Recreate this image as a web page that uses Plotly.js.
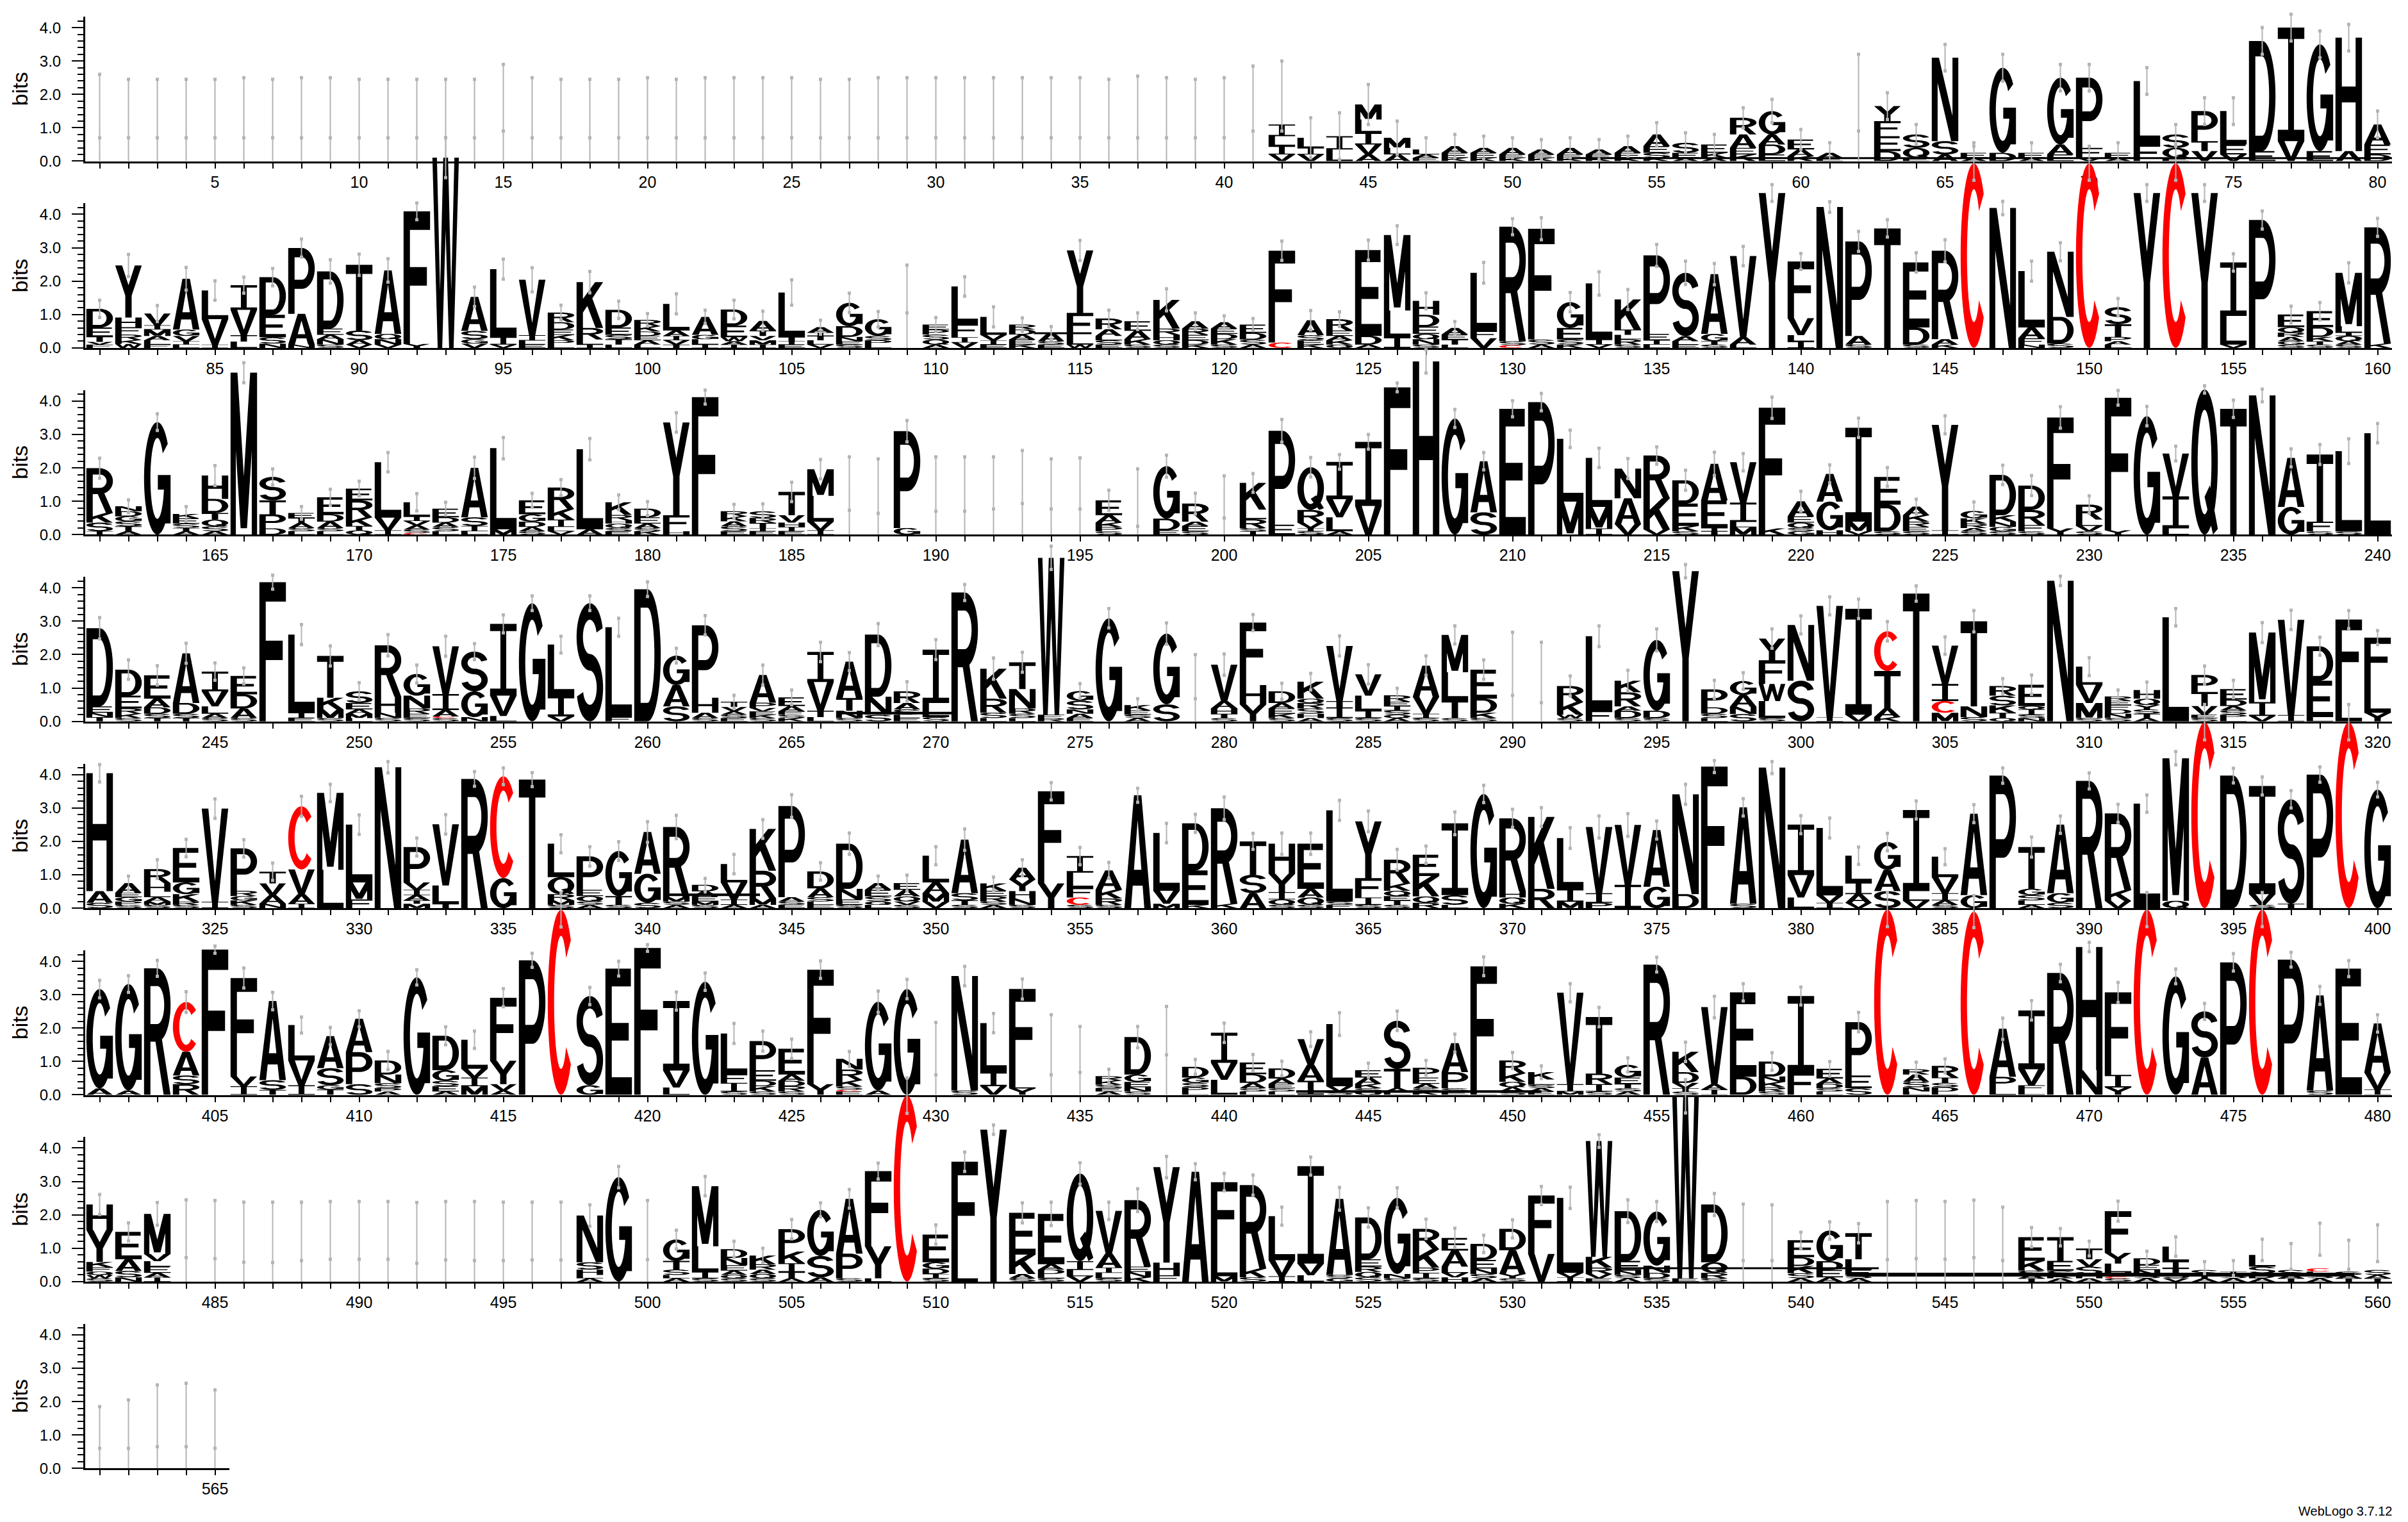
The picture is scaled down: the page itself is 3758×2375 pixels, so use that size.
<!DOCTYPE html>
<html><head><meta charset="utf-8">
<script src="https://cdn.plot.ly/plotly-3.0.1.min.js"></script>
<style>html,body{margin:0;padding:0;background:#fff;}#chart{width:3758px;height:2375px;}</style>
</head><body><div id="chart"></div>
<script>
// ---- DATA: one stack string per position, letters listed top -> bottom with heights in bits,
// ":e" = error half-width around stack top, "~lo,hi" = gap column, "@lo,hi" = explicit error range
const row1 = [
"~.7,2.6","~.7,2.45","~.7,2.45","~.7,2.45","~.7,2.45","~.7,2.5","~.7,2.45","~.7,2.5","~.7,2.5","~.7,2.45",
"~.7,2.45","~.7,2.45","~.7,2.45","~.7,2.45","~.9,2.9","~.7,2.5","~.7,2.45","~.7,2.45","~.7,2.45","~.7,2.5",
"~.7,2.45","~.7,2.5","~.7,2.5","~.7,2.5","~.7,2.5","~.7,2.45","~.7,2.45","~.7,2.5","~.7,2.5","~.7,2.5",
"~.7,2.5","~.7,2.5","~.7,2.5","~.7,2.5","~.7,2.5","~.7,2.45","~.7,2.55","~.7,2.5","~.7,2.45","~.7,2.5",
"~.9,2.85","I.35L.3I.25V.2@.9,3.0","L.3I.2V.2:.6","I.4L.35:.7","M.45L.4I.35V.3A.2:.6","M.3L.2A.2:.5","L.15A.1E.1:.35","A.2E.15K.1:.35","A.15E.15K.1:.35","A.2E.1K.1:.3",
"A.15E.1K.1:.3","A.2E.1K.1:.3","A.15E.1K.1:.3","A.2E.15K.1:.3","A.35E.2S.15K.1:.35","S.3E.15A.1:.3","E.25K.15A.1:.3","R.5A.4E.2K.2:.3","G.7A.3D.3E.2:.35","E.3A.2K.15:.3",
"A.15E.1:.3","~.9,3.2","Y.45F.45E.45D.3:.4","S.4Q.3E.1:.3","N2.5S.4A.2:.4","E.15A.1:.3","G2.55D.25:.4","E.15A.1:.3","G2.0A.3E.2:.4","P2.1F.3V.1:.4",
"E.15A.1:.3","L1.9F.5:.4","S.4Q.3E.1:.3","P.9T.3V.3:.4","L1.0E.3V.2:.4","D3.3E.3:.4","I3.4V.6:.4","G3.2E.3:.4","H3.4A.3:.4","A.6E.3D.2:.4"
];
const row2 = [
"D.56E.27T.16V.08F.1:.26","Y1.56H.29F.22R.16K.12W.12:.33","V.35I.13M.19A.13L.13F.1:.24","A1.52G.19V.16I.1L.1:.34","L.86V.76I.1:.29","I.74V.76T.19L.19:.24","D1.13E.67S.19N.13:.26","P1.97A.92N.1:.27","D1.71E.19A.13N.16S.1:.35","T1.97S.29A.13V.1:.32",
"A1.9Q.16N.16V.1:.35","F3.97Y.12:.25","W5.7:.6","A1.02S.25G.13V.13:.29","L2.04I.22V.1:.3","V1.66I.16L.12E.1:.36","R.29D.22E.16K.16P.13L.1:.22","K1.37R.35L.15I.1:.32","D.53E.22S.13T.16L.1:.26","R.19K.16D.13E.13A.13L.1:.19",
"L.8A.16I.13V.13T.1:.3","A.54G.13L.16I.1:.2","D.48E.35W.12A.1I.1:.28","A.29T.16V.13M.13I.1:.29","L1.33T.13I.1E.1:.38","A.16I.1T.13L.13V.1:.21","G.7D.32N.13E.1S.1:.29","G.5S.13P.13L.1:.23","~1.05,2.48","E.15P.15S.15Q.15A.1:.21",
"L1.12F.4I.16V.16:.29","L.54V.16I.13E.1:.3","R.15D.15A.15E.15K.1:.2","A.25S.1E.1:.19","Y1.87F.7L.25W.1:.3","R.32A.2L.13S.13E.1:.25","E.29A.25K.16S.1:.25","K.86R.19H.16Q.13S.1:.33","A.22R.19E.16D.13K.1:.25","A.19E.16D.16K.16S.1:.19",
"E.25D.2S.15A.1:.18","F2.75C.16:.29","A.45S.15E.13K.1:.29","R.34E.16A.13K.13Q.1:.22","E2.57D.26A.1:.3","M2.26L.8I.32:.28","H.42D.35E.22Q.16N.16S.1:.24","A.2E.15T.15L.1:.19","L1.74F.22V.29:.31","R3.43S.12C.08:.24",
"F3.32S.15A.1:.33","G.77E.35S.15K.1:.29","L1.68I.15V.1:.35","K.9T.16L.13R.16S.1:.3","P2.35E.19I.13L.1:.33","S1.9A.15L.1E.1:.35","A1.79G.22T.1S.1:.32","V2.43A.22L.1:.29","Y4.64:.25","F1.7V.51L.19I.19:.24",
"N4.22:.16","P2.83A.26S.1:.3","T3.58:.26","E1.95D.51S.1:.29","R2.65A.16K.1:.33","C5.53:.51","N4.19:.2","L1.69A.32F.19N.1:.3","N1.95D.8S.13:.27","C5.53:.51",
"S.51T.38P.13A.1L.1:.26","Y4.64:.25","C5.53:.51","Y4.64:.25","I1.6L.86V.1:.26","P3.83:.27","E.38Q.16R.13A.13G.1S.1:.25","E.48D.29K.13T.1S.1:.26","M1.6L.19I.1Q.16A.1S.1:.3","R3.48K.13:.27"
];
const row3 = [
"R1.34K.29S.26I.1:.3","N.15D.15G.15S.15T.15A.1:.19","G3.37:.25","K.13E.16S.13T.1A.1:.22","H.7D.42T.2Q.2S.15A.1:.3","M4.85:.3","S.7T.42P.42D.19:.24","E.15T.15A.15S.1L.1:.19","E.51D.22A.19S.1L.1:.24","E.35R.51K.26T.13Q.13:.22",
"L1.66V.38I.13:.29","L.43I.13V.13A.13S.1C.05:.26","E.26D.16A.13S.13L.1:.19","A1.48S.26I.16L.1:.32","L2.43M.16:.32","E.42G.22D.16A.13S.1:.21","R.64K.32I.22L.13V.1:.24","L2.4A.16:.32","K.38R.16H.1Q.13S.1E.1:.22","D.26E.19A.13S.1K.1:.21",
"Y2.78F.48H.1:.29","F4.12:.21","R.15K.15A.15S.15E.1:.21","S.2R.15T.15I.1E.1:.22","T.7V.22H.13I.13E.1:.29","M.8L.77V.26I.13:.29","~.73,2.33","~.64,2.27","P2.9G.2:.32","~.7,2.33",
"~.7,2.33","~.77,2.33","~.93,2.52","~.77,2.27","~.77,2.3","E.45A.22K.13P.13S.1:.3","~.25,1.97","G1.57D.35E.13:.33","R.54A.13E.16S.1:.31","~.5,1.76",
"K.8L.29R.26S.1I.1:.28","P2.81E.3:.34","Q1.28R.38V.16I.1S.1:.29","I1.12V.54L.42A.1:.22","I1.92V.86:.22","F4.41:.13","H5.19:.35","G3.48:.27","A1.53S.67:.26","E3.77:.24",
"P3.97:.26","L1.88M.99:.26","L1.47M.64I.19:.29","N.89A.77V.32:.3","R1.28K.93V.16:.26","D.7E.67K.16S.1:.3","A1.09E.83I.1T.1:.35","V1.21I.58L.16M.22:.26","F3.61K.19:.32","A.45E.19Q.16S.1G.1:.3",
"A.83G.86H.13:.27","I2.81M.29V.1:.29","E.83D.8S.1:.28","A.26K.19R.16E.13S.1:.22","Y3.16I.13:.27","G.22K.16R.13A.1S.1:.27","D1.21K.19N.16G.13S.1:.29","D.73R.45F.19S.1:.3","F3.32Y.19:.32","R.45L.19V.16S.1:.26",
"F3.97Y.13:.22","G3.55:.29","V1.28I.96L.19:.22","Q4.35:.11","T3.77:.26","N4.17:.19","A1.47G.83:.27","T2.01F.29S.1:.3","L2.4S.1:.37","L3.04:.29"
];
const row4 = [
"D2.34E.19N.13T.13:.32","D.78E.38R.16K.13S.1:.29","E.7A.26D.19S.13T.1:.29","A1.49D.32S.13T.1:.3","I.59V.45L.22A.13S.1:.26","E.55D.42A.29S.1:.24","F4.17:.21","L2.34I.16E.1:.3","T1.25K.35M.26S.1:.3","S.35E.19A.13M.13L.1:.26",
"R1.54H.48N.16S.1:.32","G.65N.38R.16E.13S.1:.27","V1.43I.48A.19C.05S.1:.3","S1.19G.77N.13:.24","I2.15V.61L.16:.27","G3.54:.22","L1.55I.6V.15:.25","S3.54:.22","L2.69F.13:.27","D3.96:.22",
"G.88A.64S.45:.22","P2.17H.45A.16S.1:.29","T.16V.13A.1S.1E.1:.19","A.83P.16V.1E.1K.1S.1:.3","E.26A.16F.1S.1K.1:.22","I.9V.86T.19L.13:.29","A1.09T.38N.22S.1:.27","D1.86N.54S.2:.33","R.35A.19S.16L.1E.1:.29","I1.6L.42S.13:.3",
"R3.86:.24","K.9R.42S.16L.1:.32","T.8N.58R.16S.13L.1:.3","W4.7F.1R.1:.35","G.29S.26N.13A.13E.1:.22","G3.09:.29","K.16E.13S.1A.1:.19","G2.12S.51:.32","~.68,2.0","V1.09A.22H.16T.13S.1:.32",
"F1.87H.58Y.51:.24","D.35A.16E.16K.13S.1:.24","K.51Q.13R.16S.16H.13A.1:.25","V1.65T.19I.32S.1:.3","V.64L.45I.22S.1:.29","R.19E.13I.13S.13Q.1A.1:.21","A.93V.51I.13S.1:.29","M1.12L.83T.54S.1:.27","E.87D.42K.16S.1:.29","~.78,2.67",
"~.56,2.37","R.48K.38W.1S.1:.3","L2.23F.32:.31","K.35R.42A.13D.22S.1:.31","G2.12D.22S.1:.33","Y4.5:.2","P.54D.19S.13L.1:.27","G.42A.35N.22S.22:.25","Y.65F.71W.51L.51S.1:.29","N1.67S1.22:.27",
"V3.33I.13:.27","I3.17V.2:.29","C1.19T1.12A.26K.13:.29","T3.83:.23","V1.15I.51C.35M.26:.26","T2.55N.32S.13:.32","R.29S.29K.22T.16Q.1:.22","E.64Q.1I.16S.1N.1:.29","N4.21:.14","L.54V.55M.45S.1:.27",
"R.13E.13F.13D.13N.13S.1:.19","H.26Q.19Y.13S.13T.13A.1:.24","L3.12:.26","P.51T.42V.26E.1S.1:.27","E.32D.19A.13S.13P.1L.1:.26","M2.08I.42V.16:.3","V2.85I.19:.29","D1.03E1.09L.13:.27","F2.28L.77:.27","F1.35L.9Y.26:.21"
];
const row5 = [
"H3.53A.35S.16:.26","A.29E.13G.13P.1S.1:.21","R.42H.26L.16A.13M.1S.1:.28","E1.03G.35K.22R.1S.1:.26","V2.79I.19:.29","P1.27R.16G.13K.13S.1:.26","T.35V.35A.26N.13:.26","C1.89V.74A.29I.13:.3","M2.3L1.15:.26","L1.73M.51F.26:.29",
"N4.22:.17","P1.06V.22I.16A.16T.1M.13:.27","V1.83L.55T.13:.29","R3.87:.22","C3.05G.9:.25","T3.85:.21","L1.0Q.51R.19M.13S.1:.27","P1.0E.19Q.16S.1A.1:.29","G1.35T.26S.1:.28","A1.25G.87S.16:.31",
"R2.1M.13S.1A.1:.35","D.2A.15E.15M.1S.1:.19","L.55V.51I.16A.1:.29","K1.25R.83M.19A.1:.28","P2.73A.13S.1E.1:.34","D.51A.26S.13L.1E.1:.26","D1.35N.32E.16S.1:.32","A.2E.2S.15Q.1L.1:.21","E.2A.2Q.15V.1S.1:.24","L.8A.32M.26V.19:.27",
"A1.6S.22T.13S.1:.32","K.22E.16R.16S.1A.1:.19","A.35Y.35H.22N.19S.1:.24","F2.76Y.74:.26","I.5L.45F.29C.22S.1:.26","A.58K.26R.19S.1:.24","A3.38:.21","L1.73V.39M.13:.29","D1.41E1.03K.1:.27","R2.86K.13:.34",
"T1.0S.55A.45:.24","H.9Y.55I.22Q.16S.1:.32","E1.35A.26Q.22S.1:.32","L2.73S.1F.1:.3","Y1.7F.58I.22S.1:.31","R.71K.22Q.16E.13T.13S.1:.31","E.64K.61Q.19R.16:.26","I2.15S.29L.1:.34","G3.42:.26","R2.18H.19Q.19K.13:.27",
"K2.15R.58:.28","L1.53I.38M.19:.31","V1.98I.29P.16:.33","V1.79I.7:.34","A1.7G.64:.27","N2.99D.42:.3","F4.24:.18","A2.89S.13:.26","N4.21:.18","I1.51V.67L.32:.27",
"L2.02V.22I.16:.3","L.8I.35A.26V.16:.26","G.83A.64S.51:.26","I2.43L.29V.22:.27","L.61V.48I.22A.13S.1:.24","A2.44G.39:.27","P3.97:.23","T1.25G.19S.16L.13A.1:.3","A2.05G.29S.16:.26","R3.81:.24",
"R2.3K.32V.22:.27","L3.13:.26","M4.27Q.22:.2","C5.57:.53","D3.97:.22","I3.24V.32S.1:.27","S3.13T.13:.26","P4.0:.23","C5.57:.53","G3.55:.22"
];
const row6 = [
"G2.98A.19:.26","G3.19A.13:.25","R3.79:.24","C1.49A.71S.26R.32:.31","F4.35:.11","F2.95V.29I.26:.3","A2.37S.29T.15:.26","L1.06V.74I.29:.24","A.96S.51G.13T.16:.26","A1.0P.96S.32:.24",
"D.42N.26S.15P.1A.1:.27","G3.52:.23","D1.03G.32S.16E.16A.1:.27","L.87V.26I.26M.26:.26","F1.89Y.7V.19A.13:.27","P4.03:.21","C5.54:.51","S2.67G.29:.26","E3.78:.22","F4.4:.1",
"I2.08V.51L.22:.27","G3.39:.26","L1.22F.26I.26S.1:.3","P.87E.32D.16K.16S.1:.3","E.77A.19D.16R.16S.1:.29","F3.43Y.32:.26","N.32R.32K.19S.1C.05E.1:.22","G2.66A.13:.32","G3.17:.29","~.6,2.17",
"N3.43S.13:.29","L1.47I.42V.26:.29","F2.72L.26Y.19:.3","~.6,2.4","~.67,2.05","R.13K.13S.1E.1A.1:.21","D1.12G.22E.16N.13S.1:.32","~1.2,2.65","D.32G.16S.13P.13L.1:.22","I.9V.51L.45:.29",
"E.35D.26A.16S.1L.1:.24","D.3A.16E.13S.1L.1:.22","V.77A.48I.42:.22","L1.86V.16S.1:.34","E.22A.19K.13S.1Q.1:.21","S1.44T.58A.1L.1:.29","P.29E.19A.13S.1K.1:.22","A.87P.48S.1E.1:.27","F3.75L.1:.28","R.38K.26Q.16A.13S.1:.24",
"K.22L.16S.1A.1E.1:.19","V2.74I.22M.1:.27","T1.69R.32I.22S.1:.29","G.38E.19T.13S.1A.1:.21","R3.9:.22","K.61D.32V.16T.1S.1:.29","V2.31A.16I.16:.32","E2.53D.54:.26","D.45N.16K.16R.13S.1:.26","I2.29F.67:.27",
"E.29A.16D.13S.1L.1:.22","P1.6E.38S.2:.29","C5.55:.51","R.16A.22S.16N.13L.1:.21","R.35T.16S.13D.13L.1:.21","C5.49:.48","A1.44P.32L.22:.32","I1.76V.48F.16L.13:.29","R3.65:.26","H3.69N.74:.14",
"F2.47I.38Y.22:.3","C5.55:.51","G3.55:.22","S1.38A1.12:.24","P3.97:.26","C5.55:.51","P4.05:.22","A2.85S.13:.27","E3.78:.24","A1.47V.51I.16:.26"
];
const row7 = [
"H.76Y.96K.16F.13Q.1W.1S.1:.3","E.82A.35S.19N.13:.27","M1.2V.22L.16E.19A.13I.13:.34","~.72,2.45","~.69,2.43","~.58,2.38","~.57,2.38","~.63,2.38","~.67,2.4","~.67,2.4",
"~.67,2.4","~.55,2.37","~.65,2.4","~.63,2.4","~.63,2.38","~.65,2.38","~.65,2.38","N1.4S.22H.16L.1A.1:.32","G3.13:.32","~.66,2.43",
"G.64T.26S.16L.1A.1:.28","M1.8L.77I.19S.1:.29","D.26N.22E.16A.13Q.1S.1:.24","K.26R.16A.13Q.13S.1:.22","P.67K.35I.26T.19A.1:.29","G1.38S.64A.13:.21","A1.64P.74S.1:.28","F2.25Y.96L.1:.24","C5.57:.53","E.83G.19D.16I.13S.1:.29",
"F2.89L.7:.29","Y4.55:.14","E1.25K.58A.13S.1:.3","E1.51A.16D.13L.13S.1:.35","Q2.63I.26L.19V.16:.32","V1.28A.42I.16L.16S.1:.26","R1.99E.16N.16K.13:.34","Y2.86H.38F.19:.32","A3.29:.24","F1.99L.83M.16:.26",
"R2.5K.26S.13:.3","L1.32V.48I.16:.27","I2.92V.35L.19:.27","A2.28S.1G.1:.34","D1.25E.22R.16Q.16S.13:.29","G2.28N.13S.1:.3","R.61K.55P.16I.16S.1:.29","E.38A.48L.19V.13H.13:.29","D.48E.26N.16S.13A.1:.26","D.64A.71Y.13S.1:.27",
"F1.75V.83:.27","L2.25V.13I.13:.32","W3.47K.32R.19V.13E.1:.19","D1.49E.29N.13S.1A.1:.34","G1.62N.22D.16S.1:.3","W5.45E.1:.5","D1.73Q.32R.16S.1:.33","~.63,2.32","~.63,2.3","E.51D.26K.22S.15A.1:.24",
"G.92D.26E.22A.13:.26","T.78L.32E.15S.1A.1:.29","~.66,2.4","~.69,2.43","~.67,2.4","~.72,2.44","~.63,2.23","E.71K.29S.13A.1T.1:.29","T.71E.29S.13K.1A.1:.26","T.32V.22S.22H.13A.1:.22",
"F1.25Y.32L.26H.13C.05S.1:.3","D.2E.15N.15S.1A.1:.21","L.45I.2T.15S.15V.1:.29","S.15T.1A.1@.24,.6","I.1S.1A.1@.18,.63","L.35S.2D.15A.1@.63,1.27","S.15A.1T.1@.37,1.14","C.1L.1S.1A.1@.79,1.75","S.1A.1T.1@.37,1.24","S.15A.1T.1@.6,1.7"
];
const row8 = ["~.6,1.85","~.6,2.05","~.65,2.5","~.65,2.55","~.6,2.35"];
const rowStarts = [1,81,161,241,321,401,481,561];
// thin horizontal strokes left by near-zero-height glyphs: [from position, to position, height in bits, stroke px]
const flatMarks = [[52,80.5,0.09,3],[113.4,115.4,0.44,3],[266.6,270.7,0.25,4],[340.6,343.9,0.4,4],[442.5,451,0.1,4],[533.6,542.7,0.4,3],[541.6,559.2,0.21,6]];
const yTickVals = [0,1,2,3,4];
const yTickText = ["0.0","1.0","2.0","3.0","4.0"];

// ---- glyph outlines in a unit box (style only)
const SX=0.24, SY=0.14;
function rect(x0,y0,x1,y1){return [[x0,y0],[x1,y0],[x1,y1],[x0,y1]];}
function arc(cx,cy,rx,ry,a0,a1,n){const p=[];for(let i=0;i<=n;i++){const a=(a0+(a1-a0)*i/n)*Math.PI/180;p.push([cx+rx*Math.cos(a),cy+ry*Math.sin(a)]);}return p;}
function band(cx,cy,rx,ry,tx,ty,a0,a1){const n=Math.max(6,Math.round(Math.abs(a1-a0)/7));return arc(cx,cy,rx,ry,a0,a1,n).concat(arc(cx,cy,rx-tx,ry-ty,a1,a0,n));}
const GLYPHS = {
 A:[[[0,0],[0.25,0],[0.57,1],[0.36,1]],[[1,0],[0.75,0],[0.43,1],[0.64,1]],rect(0.2,0.2,0.8,0.34)],
 C:[band(.5,.5,.5,.5,SX,SY,42,318)],
 D:[rect(0,0,SX,1),rect(0,0,.5,SY),rect(0,1-SY,.5,1),band(.5,.5,.5,.5,SX,SY,-90,90)],
 E:[rect(0,0,SX,1),rect(0,1-SY,.96,1),rect(0,.43,.88,.57),rect(0,0,1,SY)],
 F:[rect(0,0,SX,1),rect(0,1-SY,1,1),rect(0,.44,.88,.58)],
 G:[band(.5,.5,.5,.5,SX,SY,38,360),rect(.52,.4,1,.53),rect(1-SX,.1,1,.53)],
 H:[rect(0,0,SX,1),rect(1-SX,0,1,1),rect(0,.43,1,.57)],
 I:[rect(0,0.9,1,1),rect(0,0,1,0.1),rect(.39,0,.61,1)],
 K:[rect(0,0,SX,1),[[0.2,0.3],[1,1],[0.7,1],[0.2,0.6]],[[0.36,0.55],[0.72,0],[1,0],[0.56,0.7]]],
 L:[rect(0,0,SX,1),rect(0,0,1,SY)],
 M:[rect(0,0,.2,1),rect(.8,0,1,1),[[0.02,1],[0.26,1],[0.5,0.36],[0.74,1],[0.98,1],[0.62,0.04],[0.38,0.04]]],
 N:[rect(0,0,.22,1),rect(.78,0,1,1),[[0,1],[0.27,1],[1,0],[0.73,0]]],
 P:[rect(0,0,SX,1),rect(0,1-SY,.52,1),rect(0,.38,.52,.38+SY),band(.52,.69,.48,.31,SX,SY,-90,90)],
 Q:[band(.5,.5,.5,.5,SX,SY,0,360),[[0.5,0.26],[0.7,0.34],[1,0.04],[0.82,0]]],
 R:[rect(0,0,SX,1),rect(0,1-SY,.5,1),rect(0,.42,.5,.42+SY),band(.5,.71,.5,.29,SX,SY,-90,90),[[0.4,0.46],[0.66,0.46],[1,0],[0.74,0]]],
 S:[band(.5,.715,.5,.285,SX,SY,15,270),band(.5,.285,.5,.285,SX,SY,195,450)],
 T:[rect(0,1-SY,1,1),rect(.38,0,.62,1)],
 V:[[[0,1],[0.25,1],[0.5,0.22],[0.75,1],[1,1],[0.62,0],[0.38,0]]],
 W:[[[0,1],[0.17,1],[0.29,0.3],[0.41,1],[0.59,1],[0.71,0.3],[0.83,1],[1,1],[0.8,0],[0.63,0],[0.5,0.62],[0.37,0],[0.2,0]]],
 Y:[[[0,1],[0.26,1],[0.5,0.62],[0.74,1],[1,1],[0.62,0.42],[0.38,0.42]],rect(.38,0,.62,.44)]
};
function sarea(p){let a=0;for(let i=0;i<p.length;i++){const q=p[i],r=p[(i+1)%p.length];a+=q[0]*r[1]-r[0]*q[1];}return a/2;}
const GL={};for(const k in GLYPHS){GL[k]=GLYPHS[k].map(p=>sarea(p)<0?p.slice().reverse():p);}

function parse(s){
  const o={L:[],kind:'e',e:0,lo:0,hi:0};
  if(s[0]==='~'){const v=s.slice(1).split(',').map(Number);o.kind='g';o.lo=v[0];o.hi=v[1];return o;}
  const sep=s.search(/[:@]/);const lp=sep<0?s:s.slice(0,sep);
  const re=/([A-Z])(\d*\.?\d+)/g;let m;while((m=re.exec(lp)))o.L.push([m[1],parseFloat(m[2])]);
  if(sep>=0){if(s[sep]===':')o.e=parseFloat(s.slice(sep+1));else{const v=s.slice(sep+1).split(',').map(Number);o.kind='r';o.lo=v[0];o.hi=v[1];}}
  return o;
}

const W=3758,H=2375,ML=133,MR=25,PW=W-ML-MR,COLPX=PW/80,BIT=52.1,BASE0=251.5,PITCH=291.4,YTOP=4.33,HW=0.46;
const rows=[row1,row2,row3,row4,row5,row6,row7,row8];
const traces=[];
const layout={width:W,height:H,margin:{l:ML,r:MR,t:0,b:0},showlegend:false,paper_bgcolor:'#fff',plot_bgcolor:'rgba(0,0,0,0)',
  font:{family:'Liberation Sans, Arial, sans-serif',color:'#000'},
  annotations:[{text:'WebLogo 3.7.12',xref:'paper',yref:'paper',x:1+(MR-23)/PW,y:1-2358/H,xanchor:'right',yanchor:'middle',showarrow:false,font:{size:20,color:'#000'}}]};

rows.forEach((row,k)=>{
  const start=rowStarts[k], n=row.length;
  const xs=k===0?'':String(k+1), ys=k===0?'':String(k+1), ls=String(k+9);
  const base=BASE0+k*PITCH;
  const topPx=Math.max(0,base-8*BIT);
  layout['xaxis'+xs]={domain:[0,n*COLPX/PW],range:[start-0.5,start+n-0.5],anchor:'y'+ys,
    tickmode:'linear',tick0:0,dtick:5,ticks:'outside',ticklen:8,tickwidth:2,tickcolor:'#000',
    minor:{tick0:0,dtick:1,ticks:'outside',ticklen:8,tickwidth:2,tickcolor:'#000'},
    showline:true,linewidth:3,linecolor:'#000',showgrid:false,zeroline:false,fixedrange:true,
    tickfont:{size:25,color:'#000'},ticklabelstandoff:0};
  layout['yaxis'+ys]={domain:[1-base/H,1-(base-YTOP*BIT)/H],range:[0,YTOP],anchor:'x'+xs,
    tickmode:'array',tickvals:yTickVals,ticktext:yTickText,ticks:'outside',ticklen:18,tickwidth:2,tickcolor:'#000',
    minor:{tick0:0,dtick:0.2,ticks:'outside',ticklen:9,tickwidth:2,tickcolor:'#000'},
    showline:true,linewidth:3,linecolor:'#000',showgrid:false,zeroline:false,fixedrange:true,
    tickfont:{size:24,color:'#000'},ticklabelstandoff:12,
    title:{text:'bits',font:{size:34,color:'#000'},standoff:8}};
  layout['yaxis'+ls]={domain:[1-base/H,1-topPx/H],range:[0,(base-topPx)/BIT],anchor:'x'+xs,visible:false,fixedrange:true};
  // invisible anchor trace so the visible axis pair exists as a subplot
  traces.push({type:'scatter',x:[start],y:[0],xaxis:'x'+xs,yaxis:'y'+ys,mode:'markers',marker:{opacity:0,size:1},hoverinfo:'skip'});
  const bx=[],by=[],rx=[],ry=[],ex=[],ey=[],cx=[],cy=[];
  row.forEach((s,i)=>{
    const p=start+i, st=parse(s);
    let y=0;
    for(let j=st.L.length-1;j>=0;j--){
      const ch=st.L[j][0],h=st.L[j][1];
      const X=ch==='C'?rx:bx,Y=ch==='C'?ry:by;
      (GL[ch]||[]).forEach(poly=>{poly.forEach(pt=>{X.push(p-HW+pt[0]*2*HW);Y.push(y+pt[1]*h);});X.push(null);Y.push(null);});
      y+=h;
    }
    if(st.kind==='e'){
      const lo=y-st.e,hi=y+st.e;ex.push(p,p,null);ey.push(Math.max(0,lo),hi,null);
      if(lo>0){cx.push(p);cy.push(lo);} cx.push(p);cy.push(hi);
    } else if(st.kind==='g'){
      ex.push(p,p,null);ey.push(0,st.hi,null);cx.push(p,p);cy.push(st.lo,st.hi);
    } else {
      ex.push(p,p,null);ey.push(st.lo,st.hi,null);cx.push(p,p);cy.push(st.lo,st.hi);
    }
  });
  const ax={xaxis:'x'+xs,yaxis:'y'+ls,hoverinfo:'skip'};
  traces.push(Object.assign({type:'scatter',x:bx,y:by,mode:'lines',line:{width:0,simplify:false},fill:'toself',fillcolor:'#000',connectgaps:false},ax));
  traces.push(Object.assign({type:'scatter',x:rx,y:ry,mode:'lines',line:{width:0,simplify:false},fill:'toself',fillcolor:'#ff0000',connectgaps:false},ax));
  flatMarks.filter(f=>f[0]>=start-0.5&&f[0]<start+n-0.5).forEach(f=>{
    traces.push(Object.assign({type:'scatter',x:[f[0],f[1]],y:[f[2],f[2]],mode:'lines',line:{width:f[3],color:'#000'}},ax));
  });
  traces.push(Object.assign({type:'scatter',x:ex,y:ey,mode:'lines',line:{width:2,color:'#b4b4b4',simplify:false},connectgaps:false},ax));
  traces.push(Object.assign({type:'scatter',x:cx,y:cy,mode:'markers',marker:{symbol:'square',size:5,color:'#b4b4b4'}},ax));
});
Plotly.newPlot('chart',traces,layout,{staticPlot:true,displayModeBar:false});
</script>
</body></html>
